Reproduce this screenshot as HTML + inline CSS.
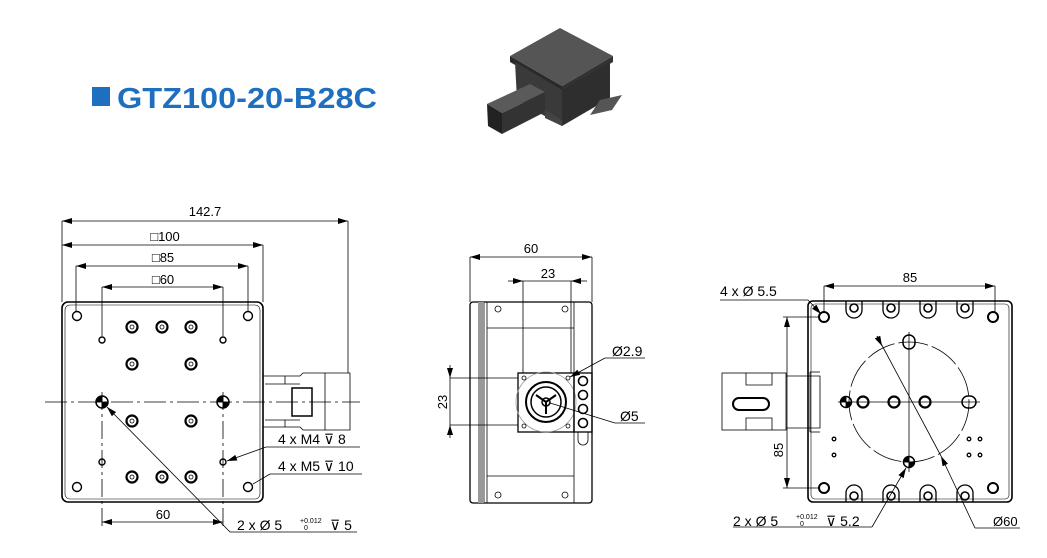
<!DOCTYPE html>
<html><head><meta charset="utf-8"><style>
html,body{margin:0;padding:0;background:#fff;}
svg{display:block;font-family:"Liberation Sans",Arial,sans-serif;}
</style></head><body>
<svg width="1047" height="558" viewBox="0 0 1047 558" xmlns="http://www.w3.org/2000/svg">
<defs>
<marker id="a" viewBox="0 0 10 6" refX="10" refY="3" markerWidth="10" markerHeight="6" orient="auto-start-reverse" markerUnits="userSpaceOnUse"><path d="M0,0L10,3L0,6z" fill="#000"/></marker>
</defs>
<!-- title -->
<rect x="92" y="87" width="18" height="19" fill="#1f6fc0"/>
<text x="117" y="108" font-size="29" font-weight="bold" fill="#1f6fc0" textLength="260" lengthAdjust="spacingAndGlyphs">GTZ100-20-B28C</text>
<!-- photo -->
<g>
<polygon points="510,56 560,28 613,56 562,86" fill="#555"/>
<polygon points="510,56 562,86 562,92 510,62" fill="#2a2a2a"/>
<polygon points="562,86 613,56 613,62 562,92" fill="#333"/>
<polygon points="515,62 562,90 562,126 517,100" fill="#3a3a3a"/>
<polygon points="562,90 610,62 610,98 562,126" fill="#2e2e2e"/>
<polygon points="545,110 562,120 562,126 545,118" fill="#444"/>
<polygon points="600,100 622,95 612,110 590,115" fill="#555"/>
<polygon points="487,104 530,84 545,92 502,113" fill="#5a5a5a"/>
<polygon points="487,104 502,113 502,134 488,126" fill="#222"/>
<polygon points="502,113 545,92 545,112 502,134" fill="#333"/>
</g>
<g stroke="#000" fill="none" stroke-width="0.8">
<!-- LEFT VIEW -->
<line x1="62" y1="221" x2="62" y2="302"/><line x1="348" y1="221" x2="348" y2="373"/>
<line x1="62" y1="221" x2="348" y2="221" marker-start="url(#a)" marker-end="url(#a)"/>
<line x1="263" y1="245" x2="263" y2="302"/>
<line x1="62" y1="245" x2="263" y2="245" marker-start="url(#a)" marker-end="url(#a)"/>
<line x1="76" y1="266" x2="76" y2="312"/><line x1="248" y1="266" x2="248" y2="312"/>
<line x1="76" y1="266" x2="248" y2="266" marker-start="url(#a)" marker-end="url(#a)"/>
<line x1="102" y1="287" x2="102" y2="336"/><line x1="223" y1="287" x2="223" y2="336"/>
<line x1="102" y1="287" x2="223" y2="287" marker-start="url(#a)" marker-end="url(#a)"/>
<rect x="62" y="302" width="201" height="200" rx="6" stroke-width="1.6"/>
<rect x="65" y="305" width="195" height="194" rx="5" stroke-width="0.6"/>
<line x1="45" y1="402" x2="360" y2="402" stroke-dasharray="22,4,3,4"/>
<line x1="102" y1="392" x2="102" y2="528" stroke-dasharray="18,4,3,4"/>
<line x1="223" y1="392" x2="223" y2="528" stroke-dasharray="18,4,3,4"/>
<line x1="102" y1="522" x2="223" y2="522" marker-start="url(#a)" marker-end="url(#a)"/>
<g stroke-width="1.4">
<circle cx="77" cy="316" r="4.5"/><circle cx="248" cy="316" r="4.5"/><circle cx="77" cy="487" r="4.5"/><circle cx="248" cy="487" r="4.5"/>
<circle cx="102" cy="340" r="3"/><circle cx="223" cy="340" r="3"/><circle cx="102" cy="462" r="3"/><circle cx="223" cy="462" r="3"/>
</g>
<g stroke-width="2.2">
<circle cx="132" cy="327" r="5.5"/><circle cx="162" cy="327" r="5.5"/><circle cx="191" cy="327" r="5.5"/>
<circle cx="132" cy="364" r="5.5"/><circle cx="191" cy="364" r="5.5"/>
<circle cx="132" cy="421" r="5.5"/><circle cx="191" cy="421" r="5.5"/>
<circle cx="132" cy="477" r="5.5"/><circle cx="162" cy="477" r="5.5"/><circle cx="191" cy="477" r="5.5"/>
</g>
<g stroke-width="0.8">
<circle cx="132" cy="327" r="2"/><circle cx="162" cy="327" r="2"/><circle cx="191" cy="327" r="2"/>
<circle cx="132" cy="364" r="2"/><circle cx="191" cy="364" r="2"/>
<circle cx="132" cy="421" r="2"/><circle cx="191" cy="421" r="2"/>
<circle cx="132" cy="477" r="2"/><circle cx="162" cy="477" r="2"/><circle cx="191" cy="477" r="2"/>
</g>
<circle cx="102" cy="402" r="6" stroke-width="1.5"/><circle cx="223" cy="402" r="6" stroke-width="1.5"/>
<path d="M96,402A6,6 0 0 1 102,396V402ZM108,402A6,6 0 0 1 102,408V402Z" fill="#000"/>
<path d="M217,402A6,6 0 0 1 223,396V402ZM229,402A6,6 0 0 1 223,408V402Z" fill="#000"/>
<!-- motor -->
<path d="M263,376H300L303,373H350V430H303L300,427H263Z"/>
<line x1="265" y1="384" x2="300" y2="384"/><line x1="265" y1="420" x2="300" y2="420"/>
<line x1="325" y1="373" x2="325" y2="430"/>
<path d="M292,388H312V416H292Z" stroke-width="1.5"/>
<line x1="285" y1="376" x2="285" y2="384"/><line x1="285" y1="420" x2="285" y2="427"/>
<!-- leaders -->
<line x1="230" y1="532" x2="107" y2="407" marker-end="url(#a)"/>
<line x1="230" y1="532" x2="357" y2="532"/>
<line x1="266" y1="447" x2="227" y2="461" marker-end="url(#a)"/>
<line x1="266" y1="447" x2="360" y2="447"/>
<line x1="270" y1="474" x2="253" y2="484"/>
<line x1="270" y1="474" x2="362" y2="474"/>

<!-- MIDDLE VIEW -->
<line x1="470" y1="257" x2="470" y2="302"/><line x1="592" y1="257" x2="592" y2="302"/>
<line x1="470" y1="257" x2="592" y2="257" marker-start="url(#a)" marker-end="url(#a)"/>
<line x1="523" y1="281" x2="523" y2="373"/><line x1="571" y1="281" x2="571" y2="373"/>
<line x1="508" y1="281" x2="523" y2="281" marker-end="url(#a)"/>
<line x1="587" y1="281" x2="571" y2="281" marker-end="url(#a)"/>
<line x1="523" y1="281" x2="571" y2="281"/>
<rect x="470" y="302" width="122" height="201" rx="3" stroke-width="1.3"/>
<line x1="484" y1="302" x2="484" y2="503"/><line x1="487" y1="302" x2="487" y2="503"/>
<line x1="574" y1="302" x2="574" y2="503"/>
<line x1="487" y1="328" x2="574" y2="328"/><line x1="487" y1="476" x2="574" y2="476"/>
<rect x="478" y="302" width="6" height="201" fill="#999" stroke="none"/>
<circle cx="498" cy="309" r="3"/><circle cx="565" cy="309" r="3"/><circle cx="498" cy="495" r="3"/><circle cx="565" cy="495" r="3"/>
<rect x="518" y="373" width="56" height="59" stroke-width="1.3"/>
<circle cx="546" cy="402" r="30" stroke="#999"/>
<circle cx="546" cy="402" r="20" stroke-width="2"/>
<circle cx="546" cy="402" r="15" stroke-width="1.5"/>
<circle cx="546" cy="402" r="4" stroke-width="1.5"/>
<path d="M546,402L536,395M546,402L556,395M546,402L546,414" stroke-width="2"/>
<circle cx="524" cy="378" r="2"/><circle cx="568" cy="378" r="2"/><circle cx="524" cy="426" r="2"/><circle cx="568" cy="426" r="2"/>
<rect x="574" y="373" width="18" height="59" stroke-width="1.3"/>
<circle cx="583" cy="381" r="4.5" stroke-width="1.6"/><circle cx="583" cy="395" r="4.5" stroke-width="1.6"/><circle cx="583" cy="409" r="4.5" stroke-width="1.6"/><circle cx="583" cy="423" r="4.5" stroke-width="1.6"/>
<path d="M578,432V440A4,4 0 0 0 588,440V432"/>
<line x1="450" y1="378" x2="518" y2="378"/><line x1="450" y1="425" x2="518" y2="425"/>
<line x1="450" y1="365" x2="450" y2="378" marker-end="url(#a)"/>
<line x1="450" y1="438" x2="450" y2="425" marker-end="url(#a)"/>
<line x1="450" y1="378" x2="450" y2="425"/>
<line x1="605" y1="358" x2="645" y2="358"/><line x1="605" y1="358" x2="570" y2="377" marker-end="url(#a)"/>
<line x1="615" y1="423" x2="645" y2="423"/><line x1="615" y1="423" x2="550" y2="403"/>

<!-- RIGHT VIEW -->
<line x1="824" y1="286" x2="824" y2="312"/><line x1="995" y1="286" x2="995" y2="312"/>
<line x1="824" y1="286" x2="995" y2="286" marker-start="url(#a)" marker-end="url(#a)"/>
<rect x="808" y="301" width="204" height="201" rx="5" stroke-width="1.6"/>
<rect x="811" y="304" width="198" height="195" rx="4" stroke-width="0.6"/>
<line x1="720" y1="300" x2="808" y2="300"/><line x1="808" y1="300" x2="821" y2="314" marker-end="url(#a)"/>
<g stroke-width="2"><circle cx="824" cy="317" r="5"/><circle cx="993" cy="317" r="5"/><circle cx="824" cy="488" r="5"/><circle cx="993" cy="488" r="5"/></g>
<g stroke-width="1.3">
<path d="M846,301V310A8,8 0 0 0 862,310V301"/><path d="M883,301V310A8,8 0 0 0 899,310V301"/><path d="M920,301V310A8,8 0 0 0 936,310V301"/><path d="M957,301V310A8,8 0 0 0 973,310V301"/>
<path d="M846,502V493A8,8 0 0 1 862,493V502"/><path d="M883,502V493A8,8 0 0 1 899,493V502"/><path d="M920,502V493A8,8 0 0 1 936,493V502"/><path d="M957,502V493A8,8 0 0 1 973,493V502"/>
</g>
<g stroke-width="1.6">
<circle cx="854" cy="308" r="4"/><circle cx="891" cy="308" r="4"/><circle cx="928" cy="308" r="4"/><circle cx="965" cy="308" r="4"/>
<circle cx="854" cy="496" r="4"/><circle cx="891" cy="496" r="4"/><circle cx="928" cy="496" r="4"/><circle cx="965" cy="496" r="4"/>
</g>
<circle cx="909" cy="402" r="60" stroke-dasharray="30,4"/>
<line x1="838" y1="402" x2="980" y2="402"/><line x1="909" y1="332" x2="909" y2="472"/>
<rect x="903" y="335" width="12" height="14" rx="6" stroke-width="1.5"/>
<rect x="962" y="396" width="14" height="12" rx="6" stroke-width="1.5"/>
<g stroke-width="2.2"><circle cx="863" cy="402" r="5.5"/><circle cx="894" cy="402" r="5.5"/><circle cx="925" cy="402" r="5.5"/></g>
<circle cx="846" cy="402" r="5.5" stroke-width="1.5"/>
<path d="M840.5,402A5.5,5.5 0 0 1 846,396.5V402ZM851.5,402A5.5,5.5 0 0 1 846,407.5V402Z" fill="#000"/>
<circle cx="909" cy="462" r="5.5" stroke-width="1.5"/>
<path d="M903.5,462A5.5,5.5 0 0 1 909,456.5V462ZM914.5,462A5.5,5.5 0 0 1 909,467.5V462Z" fill="#000"/>
<g stroke-width="1.3"><circle cx="834" cy="439" r="1.8"/><circle cx="834" cy="455" r="1.8"/><circle cx="969" cy="439" r="1.8"/><circle cx="980" cy="439" r="1.8"/><circle cx="969" cy="455" r="1.8"/><circle cx="980" cy="455" r="1.8"/></g>
<!-- right motor -->
<rect x="722" y="373" width="64" height="57"/>
<path d="M786,376H820V428H786"/>
<line x1="810" y1="372" x2="810" y2="432"/><line x1="810" y1="372" x2="820" y2="372"/><line x1="810" y1="432" x2="820" y2="432"/>
<rect x="733" y="398" width="36" height="12" rx="6" stroke-width="2"/>
<path d="M746,373V385H772V373M746,430V418H772V430"/>
<!-- 85 vertical -->
<line x1="783" y1="317" x2="818" y2="317"/><line x1="783" y1="488" x2="818" y2="488"/>
<line x1="787" y1="317" x2="787" y2="488" marker-start="url(#a)" marker-end="url(#a)"/>
<!-- leaders -->
<line x1="733" y1="527" x2="872" y2="527"/><line x1="872" y1="527" x2="906" y2="468" marker-end="url(#a)"/>
<line x1="975" y1="528" x2="1020" y2="528"/>
<line x1="975" y1="528" x2="941" y2="456" marker-end="url(#a)"/>
<line x1="877" y1="336" x2="941" y2="456"/>
<line x1="877" y1="336" x2="882" y2="346" marker-end="url(#a)"/>
</g>
<g font-size="13" fill="#000">
<text x="205" y="216" text-anchor="middle">142.7</text>
<text x="165" y="241" text-anchor="middle">□100</text>
<text x="163" y="262" text-anchor="middle">□85</text>
<text x="163" y="284" text-anchor="middle">□60</text>
<text x="163" y="519" text-anchor="middle">60</text>
<text x="278" y="444" font-size="14">4 x M4 ⊽ 8</text>
<text x="278" y="471" font-size="14">4 x M5 ⊽ 10</text>
<text x="237" y="530" font-size="14">2 x Ø 5</text>
<text x="300" y="523" font-size="7">+0.012</text>
<text x="304" y="530" font-size="7">0</text>
<text x="330" y="530" font-size="14">⊽ 5</text>
<text x="531" y="253" text-anchor="middle">60</text>
<text x="548" y="278" text-anchor="middle">23</text>
<text x="447" y="402" text-anchor="middle" transform="rotate(-90 447 402)">23</text>
<text x="612" y="356" font-size="14">Ø2.9</text>
<text x="620" y="421" font-size="14">Ø5</text>
<text x="910" y="282" text-anchor="middle">85</text>
<text x="720" y="296" font-size="14">4 x Ø 5.5</text>
<text x="783" y="450" text-anchor="middle" transform="rotate(-90 783 450)">85</text>
<text x="733" y="526" font-size="14">2 x Ø 5</text>
<text x="796" y="519" font-size="7">+0.012</text>
<text x="800" y="526" font-size="7">0</text>
<text x="826" y="526" font-size="14">⊽ 5.2</text>
<text x="993" y="526" font-size="13">Ø60</text>
</g>
</svg>
</body></html>
